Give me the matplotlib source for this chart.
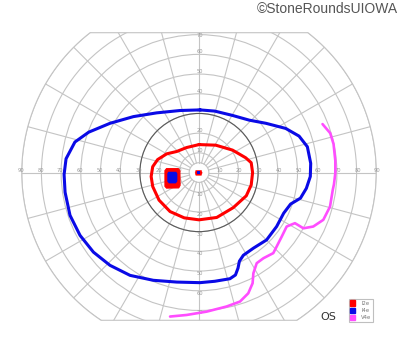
import numpy as np
import matplotlib

matplotlib.use("Agg")
import matplotlib.pyplot as plt
from matplotlib.patches import Circle, PathPatch, Patch
from matplotlib.path import Path

# isopters in field degrees (x: left/right, y: up/down)
i4e_x = [0.5, 8, 17, 25.5, 34, 44, 50.8, 55, 56.7, 56.5, 54.5, 51.5, 46.5, 43, 39.4,
         34.3, 27.6, 22.5, 20.5, 19.8, 18.5, 15.7, 8, 0.5, -11.3, -23.2, -35, -45.2,
         -53.6, -60.4, -65.5, -68, -68.5, -67.5, -63, -56, -45.2, -33.3, -21.5, -9.6, 0.5]
i4e_y = [31.8, 31.2, 29, 26.6, 25, 22.4, 18.5, 13.1, 4.7, -2, -8, -13, -16, -20.6, -27.4,
         -34.2, -38.4, -42, -45, -48.5, -52, -53.9, -55.2, -55.9, -55.6, -54.7, -52.2, -47.1,
         -40.4, -31.9, -21.7, -10, -1, 7, 15.5, 20.5, 25, 28.4, 30.3, 31.5, 31.8]

i2e_x = [0, -6.3, -11.3, -16.4, -21, -23.5, -24.3, -23.5, -20.3, -14.7, -7.5, 0, 9,
         17.4, 24, 26.5, 27.2, 26.5, 23.7, 17, 8.5, 0]
i2e_y = [14.2, 12.7, 10.7, 9.5, 6.6, 3, -2, -7.1, -14, -19.8, -23, -24, -22.8,
         -17.8, -11.8, -6.3, 0, 5, 7.5, 11.4, 13.9, 14.2]

v4e_x = [62.7, 66.6, 68.3, 69.2, 69.2, 68.5, 67.9, 66.5, 63.1, 58, 53, 48.7, 44.5, 42,
         39.4, 37.7, 32.7, 29.3, 27.6, 27.2, 25, 20.8, 14, 3.9, -6.3, -14.7]
v4e_y = [24.6, 20, 14.5, 6, -0.3, -6, -8.8, -17.3, -24, -27.4, -28.3, -25.7, -27.4, -32.5,
         -37.6, -40.9, -43.5, -46, -51.1, -56.2, -61.3, -65.5, -68, -70.6, -72.3, -73.1]

# blind spot and fixation spot
spot_red_x = [-16.5, -10.5, -9.7, -9.6, -10.3, -16.5, -17.3, -17.3]
spot_red_y = [2.0, 2.0, 1.0, -6.5, -7.8, -7.9, -7.0, 1.0]
spot_blue_x = [-15.6, -11.6, -11.0, -11.0, -11.8, -15.3, -16.1, -16.1]
spot_blue_y = [0.4, 0.4, -0.5, -4.5, -5.5, -5.5, -4.5, -0.5]
fix_red_x = [-1.6, 1.2, 1.6, 1.2, -1.6, -2.0]
fix_red_y = [1.1, 1.1, -0.1, -1.4, -1.4, -0.1]
fix_blue_x = [-0.8, 0.6, 0.6, -0.8]
fix_blue_y = [0.6, 0.6, -0.8, -0.8]

rings = [10, 20, 30, 40, 50, 60, 70, 80, 90]
h_labels = [10, 20, 30, 40, 50, 60, 70, 80, 90]
v_labels = [10, 20, 30, 40, 50, 60, 70]
legend_names = ["I2e", "I4e", "V4e"]

RED = "#ff0000"
BLUE = "#0a0ae6"
MAG = "#ff4dff"
GRID = "#c4c4c4"

fig = plt.figure(figsize=(4.0, 3.52), dpi=100)
ax = fig.add_axes([0, 0, 1, 1])
ax.set_xlim(-101, 102)
ax.set_ylim(-91.1, 87.6)
ax.set_aspect("equal")
ax.axis("off")

# field outline: 90 deg circle cut flat at top and bottom
top, bot = 71, -75
a1 = np.degrees(np.arcsin(top / 90))
a2 = np.degrees(np.arcsin(bot / 90))
t = np.radians(np.concatenate([np.linspace(a2, a1, 60), np.linspace(180 - a1, 180 - a2, 60)]))
verts = np.column_stack([90 * np.cos(t), 90 * np.sin(t)])
verts = np.vstack([verts, verts[:1]])
outline = Path(verts, closed=True)
border = PathPatch(outline, fill=False, edgecolor=GRID, lw=0.8, zorder=1)
ax.add_patch(border)

for r in [5] + rings:
    c = Circle((0, 0), r, fill=False, edgecolor=GRID, lw=0.8, zorder=1)
    ax.add_patch(c)
    c.set_clip_path(border)
dark = Circle((0, 0), 30, fill=False, edgecolor="#5a5a5a", lw=0.8, zorder=2)
ax.add_patch(dark)

for ang in range(0, 360, 15):
    a = np.radians(ang)
    ln, = ax.plot([5 * np.cos(a), 95 * np.cos(a)], [5 * np.sin(a), 95 * np.sin(a)],
                  color=GRID, lw=0.8, zorder=1)
    ln.set_clip_path(border)

for v in h_labels:
    for s in (-1, 1):
        ax.text(s * (v + 0.5), 0.9, str(v), fontsize=3.7, color="#999999",
                ha="center", va="center", zorder=3)
for v in v_labels:
    ax.text(0.3, min(v + 1.3, 69.5), str(v), fontsize=3.7, color="#999999",
            ha="center", va="center", zorder=3)
    ax.text(0.3, -(v + 1.3), str(v), fontsize=3.7, color="#999999",
            ha="center", va="center", zorder=3)

kw = dict(solid_joinstyle="round", solid_capstyle="round", zorder=5)
ax.plot(i4e_x, i4e_y, color=BLUE, lw=2.2, **kw)
ax.plot(i2e_x, i2e_y, color=RED, lw=2.2, **kw)
ax.plot(v4e_x, v4e_y, color=MAG, lw=1.9, **kw)

ax.fill(spot_red_x, spot_red_y, color=RED, lw=0.8, zorder=6)
ax.fill(spot_blue_x, spot_blue_y, color=BLUE, lw=0, zorder=7)
ax.fill(fix_red_x, fix_red_y, color=RED, lw=0.3, zorder=6)
ax.fill(fix_blue_x, fix_blue_y, color=BLUE, lw=0, zorder=7)

handles = [Patch(facecolor=c, edgecolor=c) for c in (RED, BLUE, MAG)]
leg = ax.legend(handles, legend_names, loc="lower right", bbox_to_anchor=(0.933, 0.086),
                fontsize=3.8, frameon=True, fancybox=False, handlelength=0.9,
                handleheight=1.1, handletextpad=1.2, labelspacing=0.35,
                borderpad=0.3, borderaxespad=0)
leg.get_frame().set_edgecolor("#b0b0b0")
leg.get_frame().set_linewidth(0.8)
for txt in leg.get_texts():
    txt.set_color("#777777")

ax.text(65.5, -73.4, "OS", fontsize=8, color="#333333", ha="center", va="center")
fig.text(0.995, 0.975, "\u00a9StoneRoundsUIOWA", fontsize=10, family="Liberation Sans",
         color="#555555", ha="right", va="center")

fig.savefig("out.png", dpi=100)
